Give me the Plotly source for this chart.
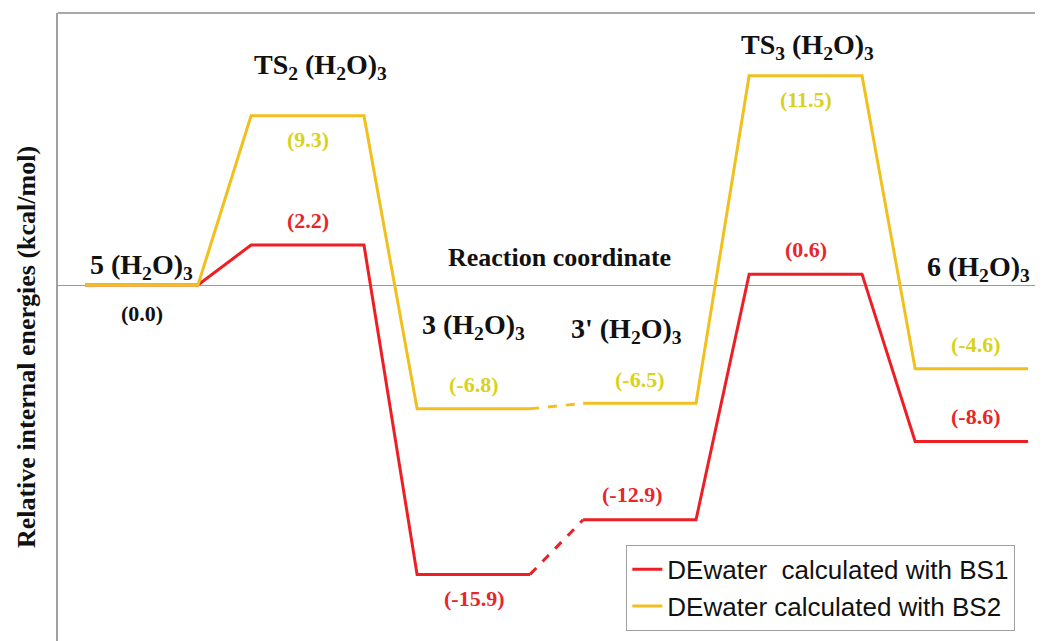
import plotly.graph_objects as go

stages = ["5 (H<sub>2</sub>O)<sub>3</sub>", "TS<sub>2</sub> (H<sub>2</sub>O)<sub>3</sub>",
          "3 (H<sub>2</sub>O)<sub>3</sub>", "3' (H<sub>2</sub>O)<sub>3</sub>",
          "TS<sub>3</sub> (H<sub>2</sub>O)<sub>3</sub>", "6 (H<sub>2</sub>O)<sub>3</sub>"]
bs1 = [0.0, 2.2, -15.9, -12.9, 0.6, -8.6]
bs2 = [0.0, 9.3, -6.8, -6.5, 11.5, -4.6]
dashed_after = 2  # connector between stage 3 and 3' is dashed

RED = "#ee1f24"
YEL = "#f2c01e"
RED_T = "#e8262a"
YEL_T = "#d9d21c"
HALF = 0.34

def paths(vals):
    sx, sy = [], []
    dx, dy = [], []
    for i, v in enumerate(vals):
        if i > 0 and i - 1 == dashed_after:
            sx.append(None); sy.append(None)
            dx += [i - 1 + HALF, i - HALF]
            dy += [vals[i - 1], v]
        sx += [i - HALF, i + HALF]
        sy += [v, v]
    return sx, sy, dx, dy

fig = go.Figure()
for name, vals, col in [("DEwater\u00a0 calculated with BS1", bs1, RED),
                        ("DEwater calculated with BS2", bs2, YEL)]:
    sx, sy, dx, dy = paths(vals)
    fig.add_trace(go.Scatter(x=sx, y=sy, mode="lines", name=name,
                             line=dict(color=col, width=3), connectgaps=False))
    fig.add_trace(go.Scatter(x=dx, y=dy, mode="lines", showlegend=False,
                             line=dict(color=col, width=3, dash="dash")))

# value labels: (stage, value, color, yshift px, xshift px)
val_labels = []
for i, v in enumerate(bs2):
    if i == 0:
        continue
    above = i in (2, 3, 5)
    val_labels.append((i, v, YEL_T, 24 if above else -24, 0 if i != 5 else 4))
for i, v in enumerate(bs1):
    if i == 0:
        continue
    above = i != 2
    val_labels.append((i, v, RED_T, 25 if above else -24, -8 if i == 3 else (4 if i == 5 else 0)))
val_labels.append((0, bs1[0], "#111111", -28, 0))

for i, v, c, ys, xs in val_labels:
    fig.add_annotation(x=i, y=v, text=f"<b>({v:.1f})</b>", showarrow=False, xshift=xs, yshift=ys,
                       font=dict(family="Liberation Serif", size=22, color=c))

# stage name labels: (x in stage units, y in data units)
name_pos = [(0.0, 1.0), (1.08, 12.0), (2.0, -2.3), (2.92, -2.5), (4.01, 13.1), (5.04, 0.9)]
for (x, y), t in zip(name_pos, stages):
    fig.add_annotation(x=x, y=y, text=f"<b>{t}</b>", showarrow=False,
                       font=dict(family="Liberation Serif", size=28, color="#111111"))

fig.add_annotation(x=2.52, y=1.5, text="<b>Reaction coordinate</b>", showarrow=False,
                   font=dict(family="Liberation Serif", size=26, color="#111111"))
fig.add_annotation(xref="paper", yref="paper", x=-0.0325, y=0.468, textangle=-90,
                   xanchor="center", yanchor="middle",
                   text="<b>Relative internal energies (kcal/mol)</b>", showarrow=False,
                   font=dict(family="Liberation Serif", size=26, color="#111111"))
fig.add_shape(type="line", xref="paper", yref="paper", x0=0, x1=1, y0=1, y1=1,
              line=dict(color="#a8a8ac", width=2))

fig.update_layout(
    width=1035, height=633, margin=dict(l=50, r=0, t=5, b=0),
    plot_bgcolor="white", paper_bgcolor="white",
    xaxis=dict(range=[-0.503, 5.43], showgrid=False, zeroline=False, showticklabels=False,
               ticks="", showline=False),
    yaxis=dict(range=[-19.56, 14.95], showgrid=False, zeroline=True, zerolinecolor="#9a9a9a",
               zerolinewidth=1, showticklabels=False, ticks="", showline=True,
               linecolor="#a0a0a0", linewidth=2),
    legend=dict(x=0.577, y=0.153, xanchor="left", yanchor="top", bordercolor="#a0a0a0",
                borderwidth=1, bgcolor="white",
                font=dict(family="Liberation Sans", size=26, color="#111111")),
    showlegend=True,
)
fig.write_html("out.html")
